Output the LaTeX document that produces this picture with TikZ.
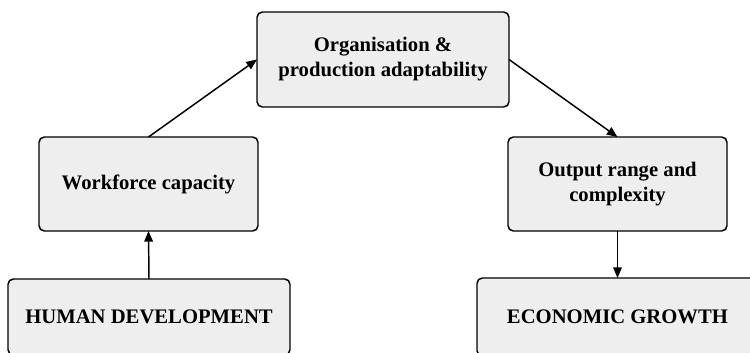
\documentclass[tikz,border=0pt]{standalone}
\usepackage{fontspec}
\setmainfont{Liberation Serif}
\usepackage{xcolor}
\usepackage{tikz}
\usetikzlibrary{arrows.meta}
\definecolor{boxgray}{HTML}{EEEEEE}

\begin{document}
\begin{tikzpicture}[x=0.75pt, y=-0.75pt,
    box/.style={draw, line width=1.1pt, rounded corners=4pt, fill=boxgray,
        align=center, inner sep=0pt, outer sep=0pt,
        font=\fontsize{15.5}{18.8}\selectfont\bfseries},
    link/.style={-{Triangle[length=8pt, width=6.5pt]}, line width=1.1pt}]
    % Frame of the picture (boxes at the bottom run past it)
    \useasboundingbox (0,0) rectangle (750,353);
    \clip (0,0) rectangle (750,353);

    % Boxes
    \node[box, minimum width=211.5pt, minimum height=57pt] (human) at (149,317) {HUMAN DEVELOPMENT};
    \node[box, minimum width=164.25pt, minimum height=70.5pt] (workforce) at (148.5,184) {Workforce capacity};
    \node[box, minimum width=189pt, minimum height=71.25pt] (organisation) at (383,59.5) {Organisation \&\\production adaptability};
    \node[box, minimum width=164.25pt, minimum height=70.5pt] (output) at (617.5,184) {Output range and\\complexity};
    \node[box, minimum width=210.75pt, minimum height=58.5pt] (growth) at (617.5,317) {ECONOMIC GROWTH};

    % Links
    \draw[link] (human.north) -- (workforce.south);
    \draw[link] (workforce.north) -- (organisation.west);
    \draw[link] (organisation.east) -- (output.north);
    \draw[link] (output.south) -- (growth.north);
\end{tikzpicture}
\end{document}
